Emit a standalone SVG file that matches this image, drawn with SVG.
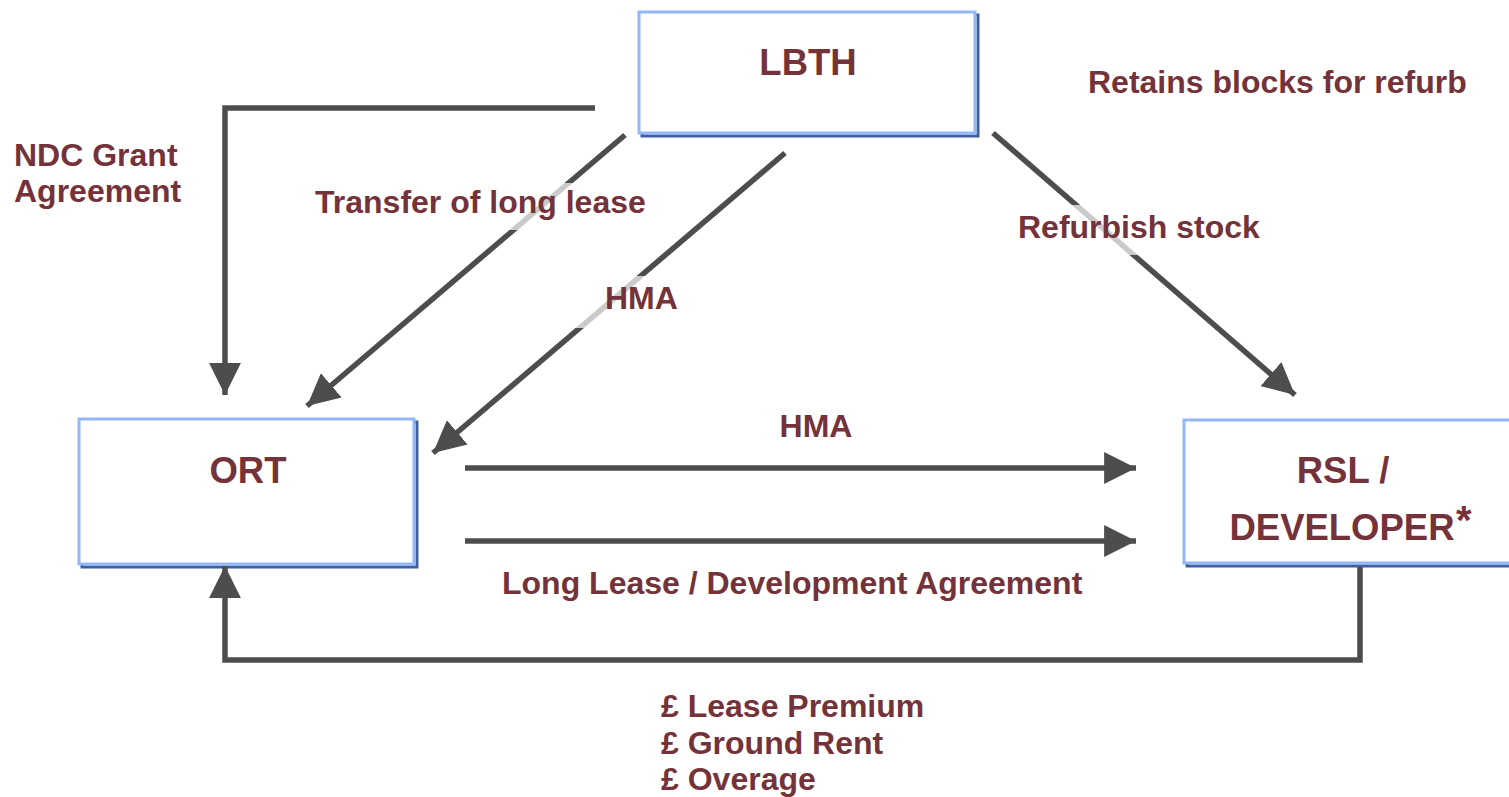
<svg xmlns="http://www.w3.org/2000/svg" width="1509" height="797" viewBox="0 0 1509 797">
<style>
.t{font-family:"Liberation Sans",Arial,sans-serif;font-weight:bold;fill:#74323a;font-size:32px}
.n{font-family:"Liberation Sans",Arial,sans-serif;font-weight:bold;fill:#74323a;font-size:36.5px;text-anchor:middle}
.dk{fill:none;stroke:#3f5f9e;stroke-width:3}
.lt{fill:#fff;stroke:#94b8f7;stroke-width:3}
.c{fill:none;stroke:#4d4d4d;stroke-width:5.5}
.bg{fill:#fff;opacity:0.7}
</style>
<defs>
<marker id="ah" viewBox="0 0 10 10" refX="10" refY="5" markerWidth="5.8" markerHeight="5.8" markerUnits="strokeWidth" orient="auto">
<path d="M0,0 L10,5 L0,10 z" fill="#4d4d4d"/>
</marker>
</defs>
<g id="lbth">
<rect class="dk" x="642" y="15" width="336" height="121"/>
<rect class="lt" x="639" y="12" width="336" height="121"/>
<text class="n" x="808" y="75">LBTH</text>
</g>
<g id="ort">
<rect class="dk" x="82" y="422" width="335" height="145"/>
<rect class="lt" x="79" y="419" width="335" height="145"/>
<text class="n" x="248" y="483">ORT</text>
</g>
<g id="rsl">
<rect class="dk" x="1187" y="423" width="340" height="143"/>
<rect class="lt" x="1184" y="420" width="340" height="143"/>
<text class="n" x="1343" y="483">RSL /</text>
<text class="n" x="1342" y="540">DEVELOPER</text>
<text x="1456" y="534" style="font-family:'Liberation Sans',Arial,sans-serif;font-weight:bold;fill:#74323a;font-size:40px">*</text>
</g>
<g id="connectors">
<polyline class="c" points="595,108 225,108 225,395" marker-end="url(#ah)"/>
<line class="c" x1="625" y1="135" x2="307" y2="406" marker-end="url(#ah)"/>
<line class="c" x1="785" y1="153" x2="433" y2="453" marker-end="url(#ah)"/>
<line class="c" x1="993" y1="133" x2="1295" y2="395" marker-end="url(#ah)"/>
<line class="c" x1="465" y1="468" x2="1136" y2="468" marker-end="url(#ah)"/>
<line class="c" x1="465" y1="541" x2="1136" y2="541" marker-end="url(#ah)"/>
<polyline class="c" points="1360,567 1360,660 225,660 225,566" marker-end="url(#ah)"/>
</g>
<g id="labels">
<rect class="bg" x="305" y="183" width="350" height="47"/>
<text class="t" x="315" y="213">Transfer of long lease</text>
<rect class="bg" x="480" y="276" width="320" height="52"/>
<text class="t" x="605" y="309">HMA</text>
<rect class="bg" x="960" y="205" width="320" height="50"/>
<text class="t" x="1018" y="238">Refurbish stock</text>
<text class="t" x="1088" y="93">Retains blocks for refurb</text>
<text class="t" x="14" y="166">NDC Grant</text>
<text class="t" x="14" y="202">Agreement</text>
<text class="t" x="816" y="437" text-anchor="middle">HMA</text>
<text class="t" x="502" y="594">Long Lease / Development Agreement</text>
<text class="t" x="661" y="717">£ Lease Premium</text>
<text class="t" x="661" y="754">£ Ground Rent</text>
<text class="t" x="661" y="790">£ Overage</text>
</g>
</svg>
